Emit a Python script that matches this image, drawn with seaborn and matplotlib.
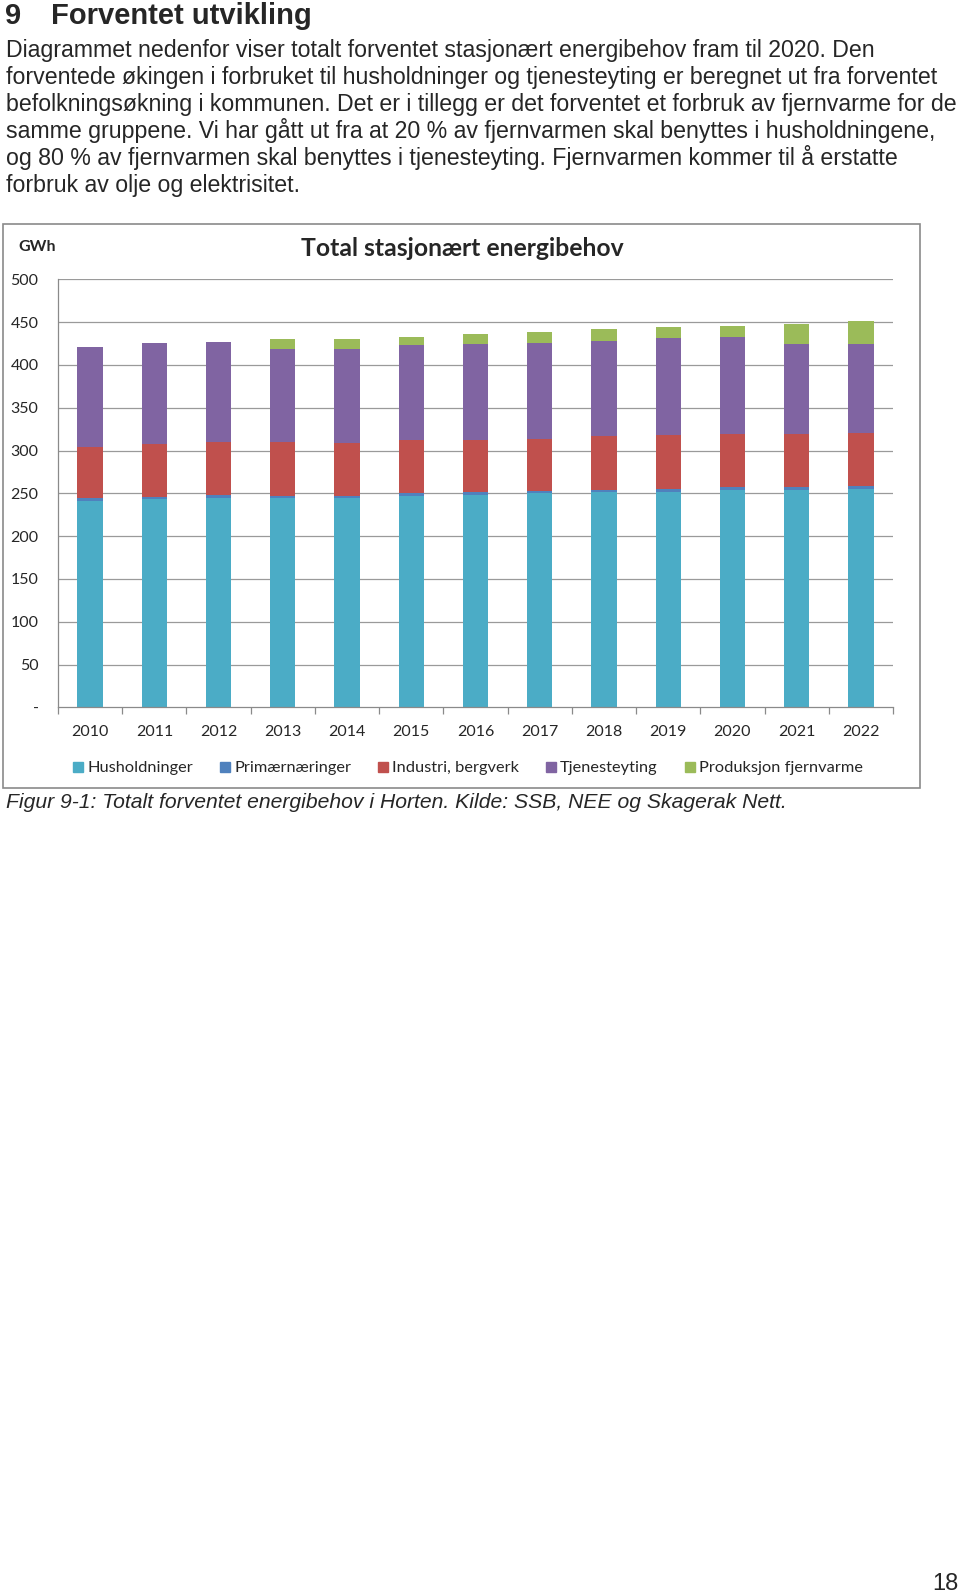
import matplotlib
matplotlib.use("Agg")
import matplotlib.pyplot as plt
from matplotlib.lines import Line2D
from matplotlib.patches import Rectangle
import numpy as np
import pandas as pd
import seaborn as sns

W, H = 960, 1592

YEARS = ["2010", "2011", "2012", "2013", "2014", "2015", "2016",
         "2017", "2018", "2019", "2020", "2021", "2022"]
HUSHOLDNINGER = [241, 243, 245, 244, 244, 247, 248, 250, 251, 252, 254, 254, 255]
PRIMAERNAERINGER = [3, 3, 3, 3, 3, 3, 3, 3, 3, 3, 3, 3, 3]
INDUSTRI = [60, 62, 62, 63, 62, 62, 61, 61, 63, 63, 62, 62, 62]
TJENESTEYTING = [117, 118, 117, 109, 110, 111, 112, 112, 111, 113, 114, 106, 104]
FJERNVARME = [0, 0, 0, 11, 11, 10, 12, 13, 14, 13, 12, 23, 27]

SERIES = ["Husholdninger", "Primærnæringer", "Industri, bergverk",
          "Tjenesteyting", "Produksjon fjernvarme"]
COLORS = ["#4BACC6", "#4F81BD", "#C0504D", "#8064A2", "#9BBB59"]
YTICKS = [0, 50, 100, 150, 200, 250, 300, 350, 400, 450, 500]
YTICKLABELS = ["-", "50", "100", "150", "200", "250", "300", "350", "400", "450", "500"]

BODY_LINES = [
    "Diagrammet nedenfor viser totalt forventet stasjonært energibehov fram til 2020. Den",
    "forventede økingen i forbruket til husholdninger og tjenesteyting er beregnet ut fra forventet",
    "befolkningsøkning i kommunen. Det er i tillegg er det forventet et forbruk av fjernvarme for de",
    "samme gruppene. Vi har gått ut fra at 20 % av fjernvarmen skal benyttes i husholdningene,",
    "og 80 % av fjernvarmen skal benyttes i tjenesteyting. Fjernvarmen kommer til å erstatte",
    "forbruk av olje og elektrisitet.",
]


def fx(x):
    return x / W


def fy(y):
    return 1 - y / H


def main() -> None:
    sns.set_theme(style="white")
    plt.rcParams["font.family"] = ["Liberation Sans", "DejaVu Sans"]
    chart_font = ["Lato", "DejaVu Sans"]

    df = pd.DataFrame({
        "year": YEARS,
        SERIES[0]: HUSHOLDNINGER,
        SERIES[1]: PRIMAERNAERINGER,
        SERIES[2]: INDUSTRI,
        SERIES[3]: TJENESTEYTING,
        SERIES[4]: FJERNVARME,
    })
    cum = df[SERIES].cumsum(axis=1)

    fig = plt.figure(figsize=(W / 100, H / 100), dpi=100)
    fig.patch.set_facecolor("white")

    # page text
    fig.text(fx(5), fy(23.5), "9", fontsize=21, fontweight="bold", va="baseline")
    fig.text(fx(51), fy(23.5), "Forventet utvikling", fontsize=21,
             fontweight="bold", va="baseline")
    for i, line in enumerate(BODY_LINES):
        fig.text(fx(6), fy(57.5 + 26.9 * i), line, fontsize=16.7, va="baseline")
    fig.text(fx(6), fy(808), "Figur 9-1: Totalt forventet energibehov i Horten. "
             "Kilde: SSB, NEE og Skagerak Nett.", fontsize=15.2, style="italic",
             va="baseline")
    fig.text(fx(959), fy(1590), "18", fontsize=17, ha="right", va="baseline")

    # chart frame
    fig.patches.append(Rectangle((fx(3), fy(788)), fx(920) - fx(3), fy(224) - fy(788),
                                 transform=fig.transFigure, fill=False,
                                 edgecolor="#8a8a8a", linewidth=1.2))

    ax = fig.add_axes([fx(58), fy(707.3), fx(893) - fx(58), fy(279.3) - fy(707.3)])

    # stacked bars: draw cumulative totals from top layer down
    for name, color in reversed(list(zip(SERIES, COLORS))):
        sns.barplot(x=df["year"], y=cum[name], color=color, saturation=1,
                    width=0.395, linewidth=0, ax=ax)

    ax.set_xlim(-0.5, len(YEARS) - 0.5)
    ax.set_ylim(0, 500)
    ax.set_xlabel("")
    ax.set_ylabel("")
    ax.set_yticks(YTICKS)
    ax.set_yticklabels(YTICKLABELS, family=chart_font, fontsize=11.5)
    for y in YTICKS[1:]:
        ax.axhline(y, color="#9a9a9a", linewidth=0.9, zorder=0)
    ax.set_axisbelow(True)
    ax.tick_params(axis="y", length=0, pad=14)
    ax.set_xticks(range(len(YEARS)))
    ax.set_xticklabels(YEARS, family=chart_font, fontsize=11.5)
    ax.set_xticks(np.arange(-0.5, len(YEARS)), minor=True)
    ax.tick_params(axis="x", which="major", length=0, pad=13)
    ax.tick_params(axis="x", which="minor", length=5, color="#8a8a8a", width=0.9,
                   direction="out", bottom=True)
    for side in ["top", "right"]:
        ax.spines[side].set_visible(False)
    for side in ["left", "bottom"]:
        ax.spines[side].set_color("#8a8a8a")
        ax.spines[side].set_linewidth(0.9)

    fig.text(fx(462), fy(249), "Total stasjonært energibehov", family=chart_font,
             fontsize=17.8, fontweight="bold", ha="center", va="center")
    fig.text(fx(18), fy(247), "GWh", family=chart_font, fontsize=11.5,
             fontweight="bold", va="center")

    handles = [Line2D([], [], marker="s", linestyle="", markersize=7,
                      markerfacecolor=c, markeredgecolor=c) for c in COLORS]
    fig.legend(handles, SERIES, loc="center", bbox_to_anchor=(fx(468), fy(768)),
               ncol=5, frameon=False, handlelength=0.6, handletextpad=0.25,
               columnspacing=1.65, prop={"family": chart_font, "size": 11.8})

    fig.savefig("out.png", dpi=100)
    plt.close(fig)


if __name__ == "__main__":
    main()
